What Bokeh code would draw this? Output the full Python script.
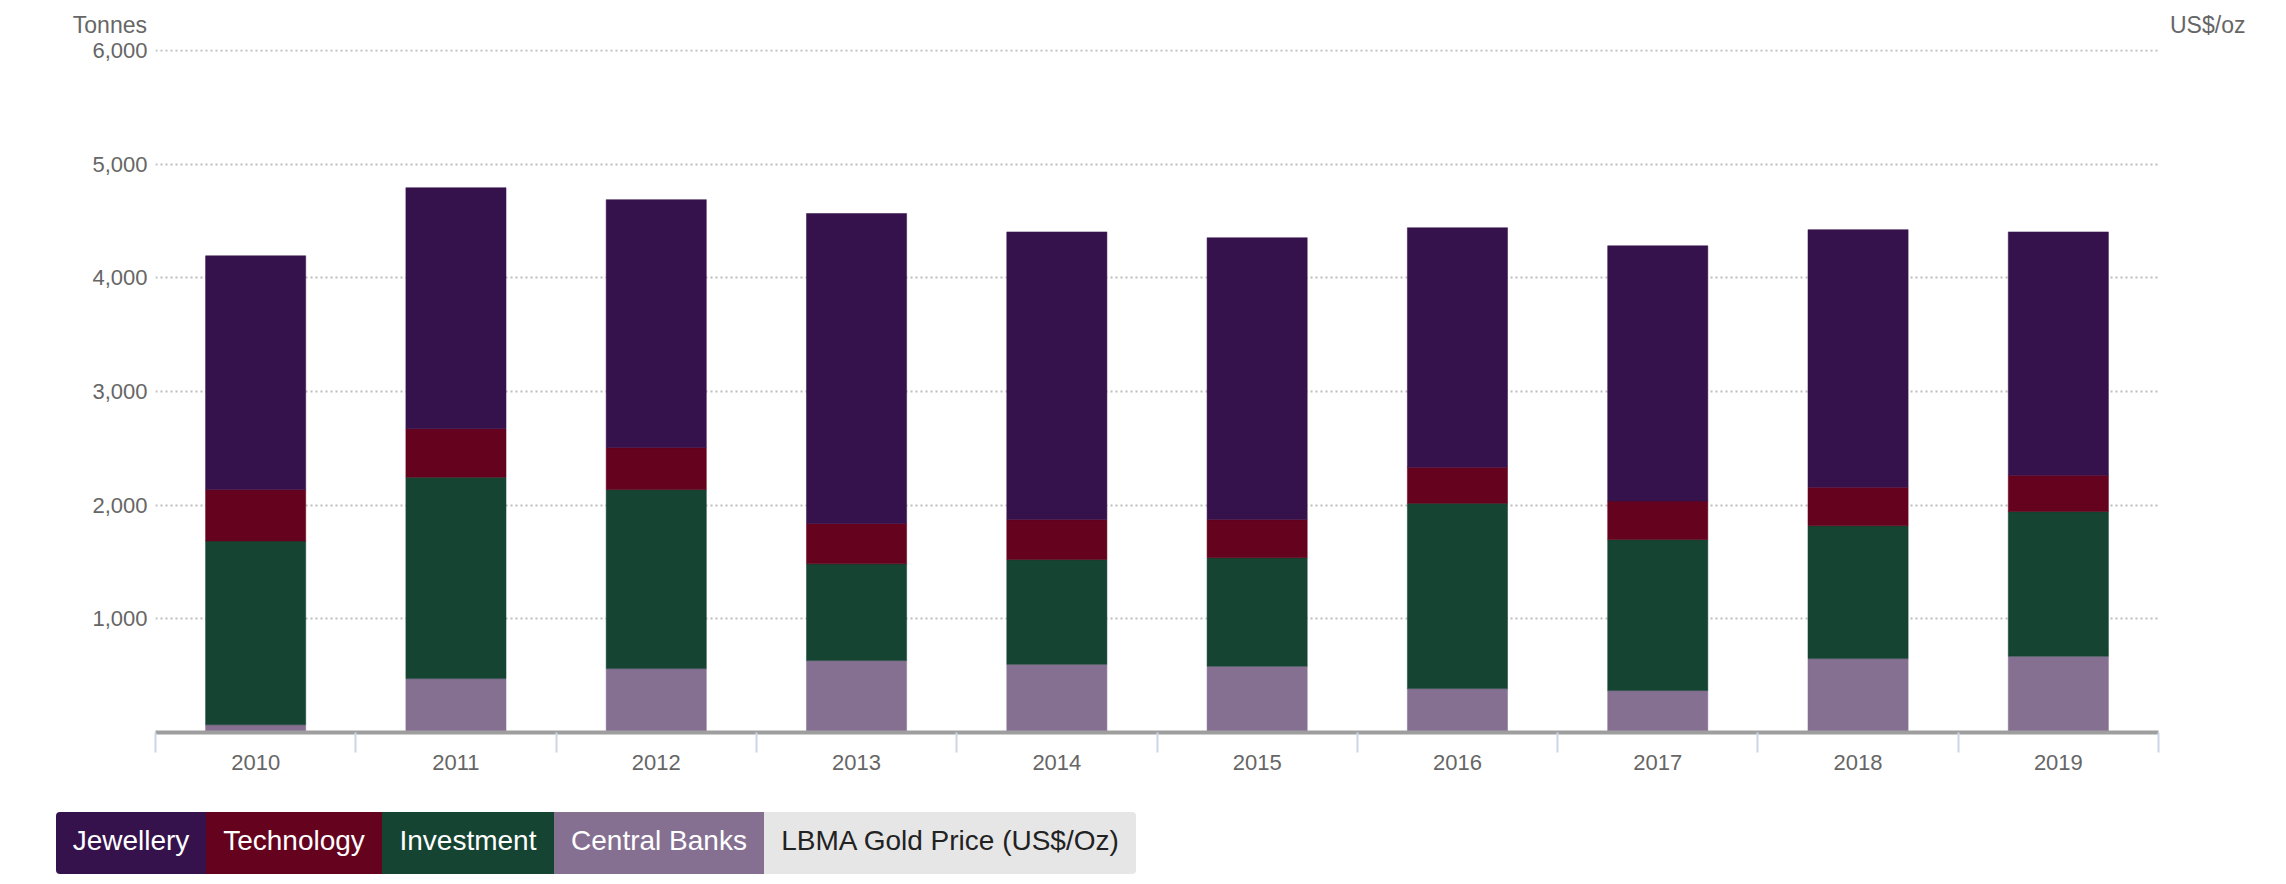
from bokeh.plotting import figure
from bokeh.models import Range1d, FixedTicker, NumeralTickFormatter, ColumnDataSource, Div
from bokeh.layouts import column
from bokeh.embed import file_html
from bokeh.resources import INLINE

# ---------------- data ----------------
years = [2010, 2011, 2012, 2013, 2014, 2015, 2016, 2017, 2018, 2019]
central_banks = [68, 474, 562, 633, 600, 583, 386, 369, 650, 671]
investment = [1616, 1772, 1575, 851, 921, 955, 1630, 1328, 1169, 1273]
technology = [453, 427, 370, 355, 352, 335, 318, 339, 339, 319]
jewellery = [2057, 2120, 2181, 2727, 2531, 2480, 2107, 2246, 2266, 2141]
y_ticks = [1000, 2000, 3000, 4000, 5000, 6000]
legend_labels = ["Jewellery", "Technology", "Investment", "Central Banks", "LBMA Gold Price (US$/Oz)"]
left_title = "Tonnes"
right_title = "US$/oz"

# ---------------- styles ----------------
FONT = "Liberation Sans"
C_JEW = "#36124c"
C_TECH = "#65031f"
C_INV = "#154433"
C_CB = "#867092"
C_OFF = "#e6e6e6"
TXT = "#666666"
W = 2286

# ---------------- header (axis titles) ----------------
header_html = (
    f'<div style="position:relative;width:{W}px;height:36px;'
    f'font-family:\'{FONT}\',Arial,sans-serif;font-size:23px;line-height:22px;color:{TXT};">'
    f'<span style="position:absolute;right:{W - 147}px;top:14px;white-space:nowrap;">{left_title}</span>'
    f'<span style="position:absolute;left:2170px;top:14px;white-space:nowrap;">{right_title}</span>'
    '</div>'
)
header = Div(text=header_html, width=W, height=36, margin=0)

# ---------------- main chart ----------------
p = figure(width=W, height=764,
           x_range=Range1d(years[0] - 0.5, years[-1] + 0.5),
           y_range=Range1d(0, 6008.8),
           output_backend="svg", toolbar_location=None,
           min_border_left=155, min_border_right=128,
           min_border_top=13, min_border_bottom=68)
p.outline_line_color = None
p.background_fill_color = "white"
p.border_fill_color = "white"

src = ColumnDataSource(dict(year=years, cb=central_banks, inv=investment,
                            tech=technology, jew=jewellery))
stack_cols = ["cb", "inv", "tech", "jew"]
stack_colors = [C_CB, C_INV, C_TECH, C_JEW]
p.vbar_stack(stack_cols, x="year", width=0.5, source=src,
             fill_color=stack_colors, line_color=stack_colors, line_width=0.5)

# x axis
xa = p.xaxis[0]
xa.ticker = FixedTicker(ticks=years, minor_ticks=[y - 0.5 for y in years] + [years[-1] + 0.5])
xa.major_tick_line_color = None
xa.major_tick_out = 0
xa.major_tick_in = 0
xa.minor_tick_line_color = "#ccd6eb"
xa.minor_tick_line_width = 2
xa.minor_tick_out = 20
xa.minor_tick_in = 0
xa.axis_line_color = "#9e9e9e"
xa.axis_line_width = 4
xa.major_label_text_font_size = "22px"
xa.major_label_text_color = TXT
xa.major_label_text_font = FONT
xa.major_label_standoff = 2
p.xgrid.visible = False

# y axis
ya = p.yaxis[0]
ya.ticker = FixedTicker(ticks=y_ticks)
ya.formatter = NumeralTickFormatter(format="0,0")
ya.axis_line_color = None
ya.major_tick_line_color = None
ya.minor_tick_line_color = None
ya.major_tick_out = 0
ya.major_tick_in = 0
ya.major_label_standoff = 8
ya.major_label_text_font_size = "22px"
ya.major_label_text_color = TXT
ya.major_label_text_font = FONT
p.ygrid.grid_line_color = "#bdbdbd"
p.ygrid.grid_line_width = 2
p.ygrid.grid_line_dash = "2 3"

# ---------------- legend (button strip) ----------------
box_widths = [150, 176, 172, 210, 372]
box_colors = [C_JEW, C_TECH, C_INV, C_CB, C_OFF]
text_colors = ["#ffffff", "#ffffff", "#ffffff", "#ffffff", "#222222"]
items = []
n = len(legend_labels)
for i, (lab, bw, bc, tc) in enumerate(zip(legend_labels, box_widths, box_colors, text_colors)):
    if i == 0:
        rad = "4px 0 0 4px"
    elif i == n - 1:
        rad = "0 4px 4px 0"
    else:
        rad = "0"
    items.append(
        f'<div style="width:{bw}px;height:62px;background:{bc};color:{tc};'
        f'display:flex;align-items:center;justify-content:center;border-radius:{rad};'
        f'white-space:nowrap;padding-bottom:4px;box-sizing:border-box;">{lab}</div>'
    )
legend_html = (
    f'<div style="position:relative;width:{W}px;height:84px;'
    f'font-family:\'{FONT}\',Arial,sans-serif;font-size:28px;">'
    f'<div style="position:absolute;left:56px;top:12px;height:62px;display:flex;">'
    + "".join(items) +
    '</div></div>'
)
legend = Div(text=legend_html, width=W, height=84, margin=0)

layout = column(header, p, legend, spacing=0)
open("out.html", "w").write(file_html(layout, INLINE))
